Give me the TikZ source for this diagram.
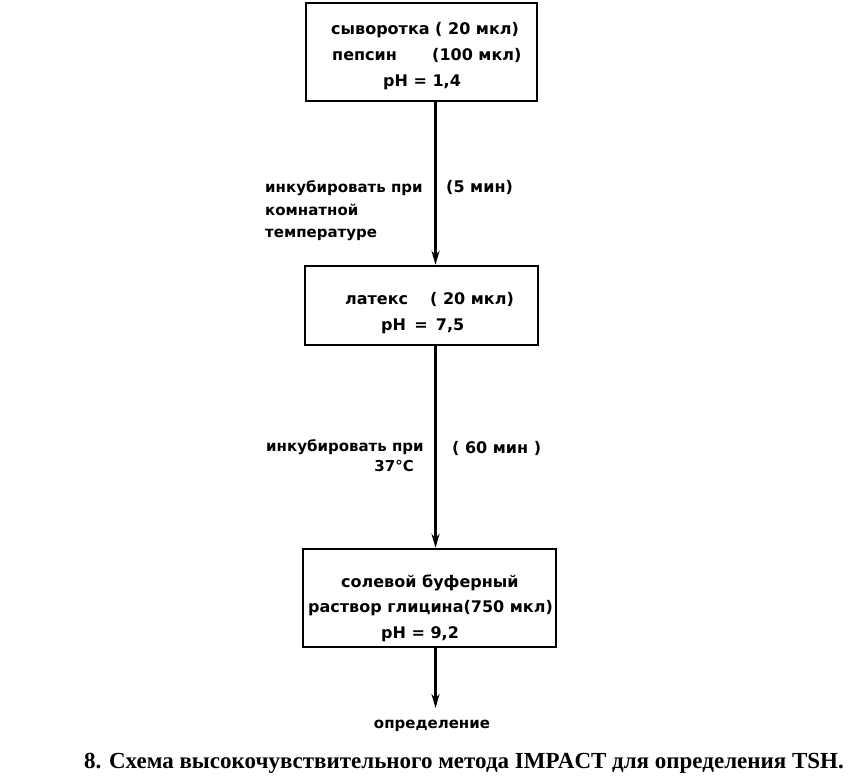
\documentclass[tikz,border=0pt]{standalone}
\usepackage{fontspec}
\setmainfont{DejaVu Sans}
\newfontfamily\capfont{Liberation Serif}
\usetikzlibrary{arrows.meta}
\tikzset{
  box/.style={draw, line width=2.4pt, inner sep=0pt},
  txt/.style={inner sep=0pt, anchor=base west, font=\bfseries\fontsize{16}{19}\selectfont},
  lbl/.style={inner sep=0pt, anchor=base west, font=\bfseries\fontsize{15}{18}\selectfont},
  flow/.style={line width=2.4pt, -{Stealth[length=14pt,width=8pt]}},
}
\begin{document}
\begin{tikzpicture}[x=1pt,y=-1pt]
\useasboundingbox (0,0) rectangle (852,781);
% boxes
\node[box, minimum width=231pt, minimum height=98pt] (b1) at (421.5,52) {};
\node[box, minimum width=233pt, minimum height=79pt] (b2) at (421.5,305.5) {};
\node[box, minimum width=253pt, minimum height=98pt] (b3) at (429.5,598) {};
% box 1 text
\node[txt] (t11) at (331,35) {сыворотка ( 20 мкл)};
\node[txt] (t12) at (332,61) {пепсин};
\node[txt] (t12b) at (432,61) {(100 мкл)};
\node[txt] (t13) at (383,87) {pH = 1,4};
% box 2 text
\node[txt] (t21) at (345,304) {латекс};
\node[txt] (t21b) at (430,304) {( 20 мкл)};
\node[txt] (t22) at (381,330) {pH \,= \,7,5};
% box 3 text
\node[txt] (t31) at (341,587) {солевой буферный};
\node[txt] (t32) at (308,612) {раствор глицина(750 мкл)};
\node[txt] (t33) at (381,638) {pH = 9,2};
% arrows
\coordinate (e3) at (435.5,708);
\draw[flow] (b1.south -| 435.5,0) -- (b2.north -| 435.5,0);
\draw[flow] (b2.south -| 435.5,0) -- (b3.north -| 435.5,0);
\draw[flow] (b3.south -| 435.5,0) -- (e3);
% labels arrow 1
\node[lbl] (l11) at (265,193) {инкубировать при};
\node[lbl] (l12) at (265,215) {комнатной};
\node[lbl] (l13) at (265,237) {температуре};
\node[txt] (l14) at (446,193) {(5 мин)};
% labels arrow 2
\node[lbl] (l21) at (266,451) {инкубировать при};
\node[inner sep=0pt, anchor=base east, font=\bfseries\fontsize{15}{18}\selectfont] (l22) at (414,471) {37°C};
\node[txt] (l23) at (452,453) {( 60 мин )};
% end
\node[inner sep=0pt, anchor=base, font=\bfseries\fontsize{15}{18}\selectfont] (end) at (432,728) {определение};
% caption
\node[inner sep=0pt, anchor=base, font=\capfont\bfseries\fontsize{23}{27}\selectfont] (cap) at (464,768) {8. Схема высокочувствительного метода IMPACT для определения TSH.};
\end{tikzpicture}
\end{document}
